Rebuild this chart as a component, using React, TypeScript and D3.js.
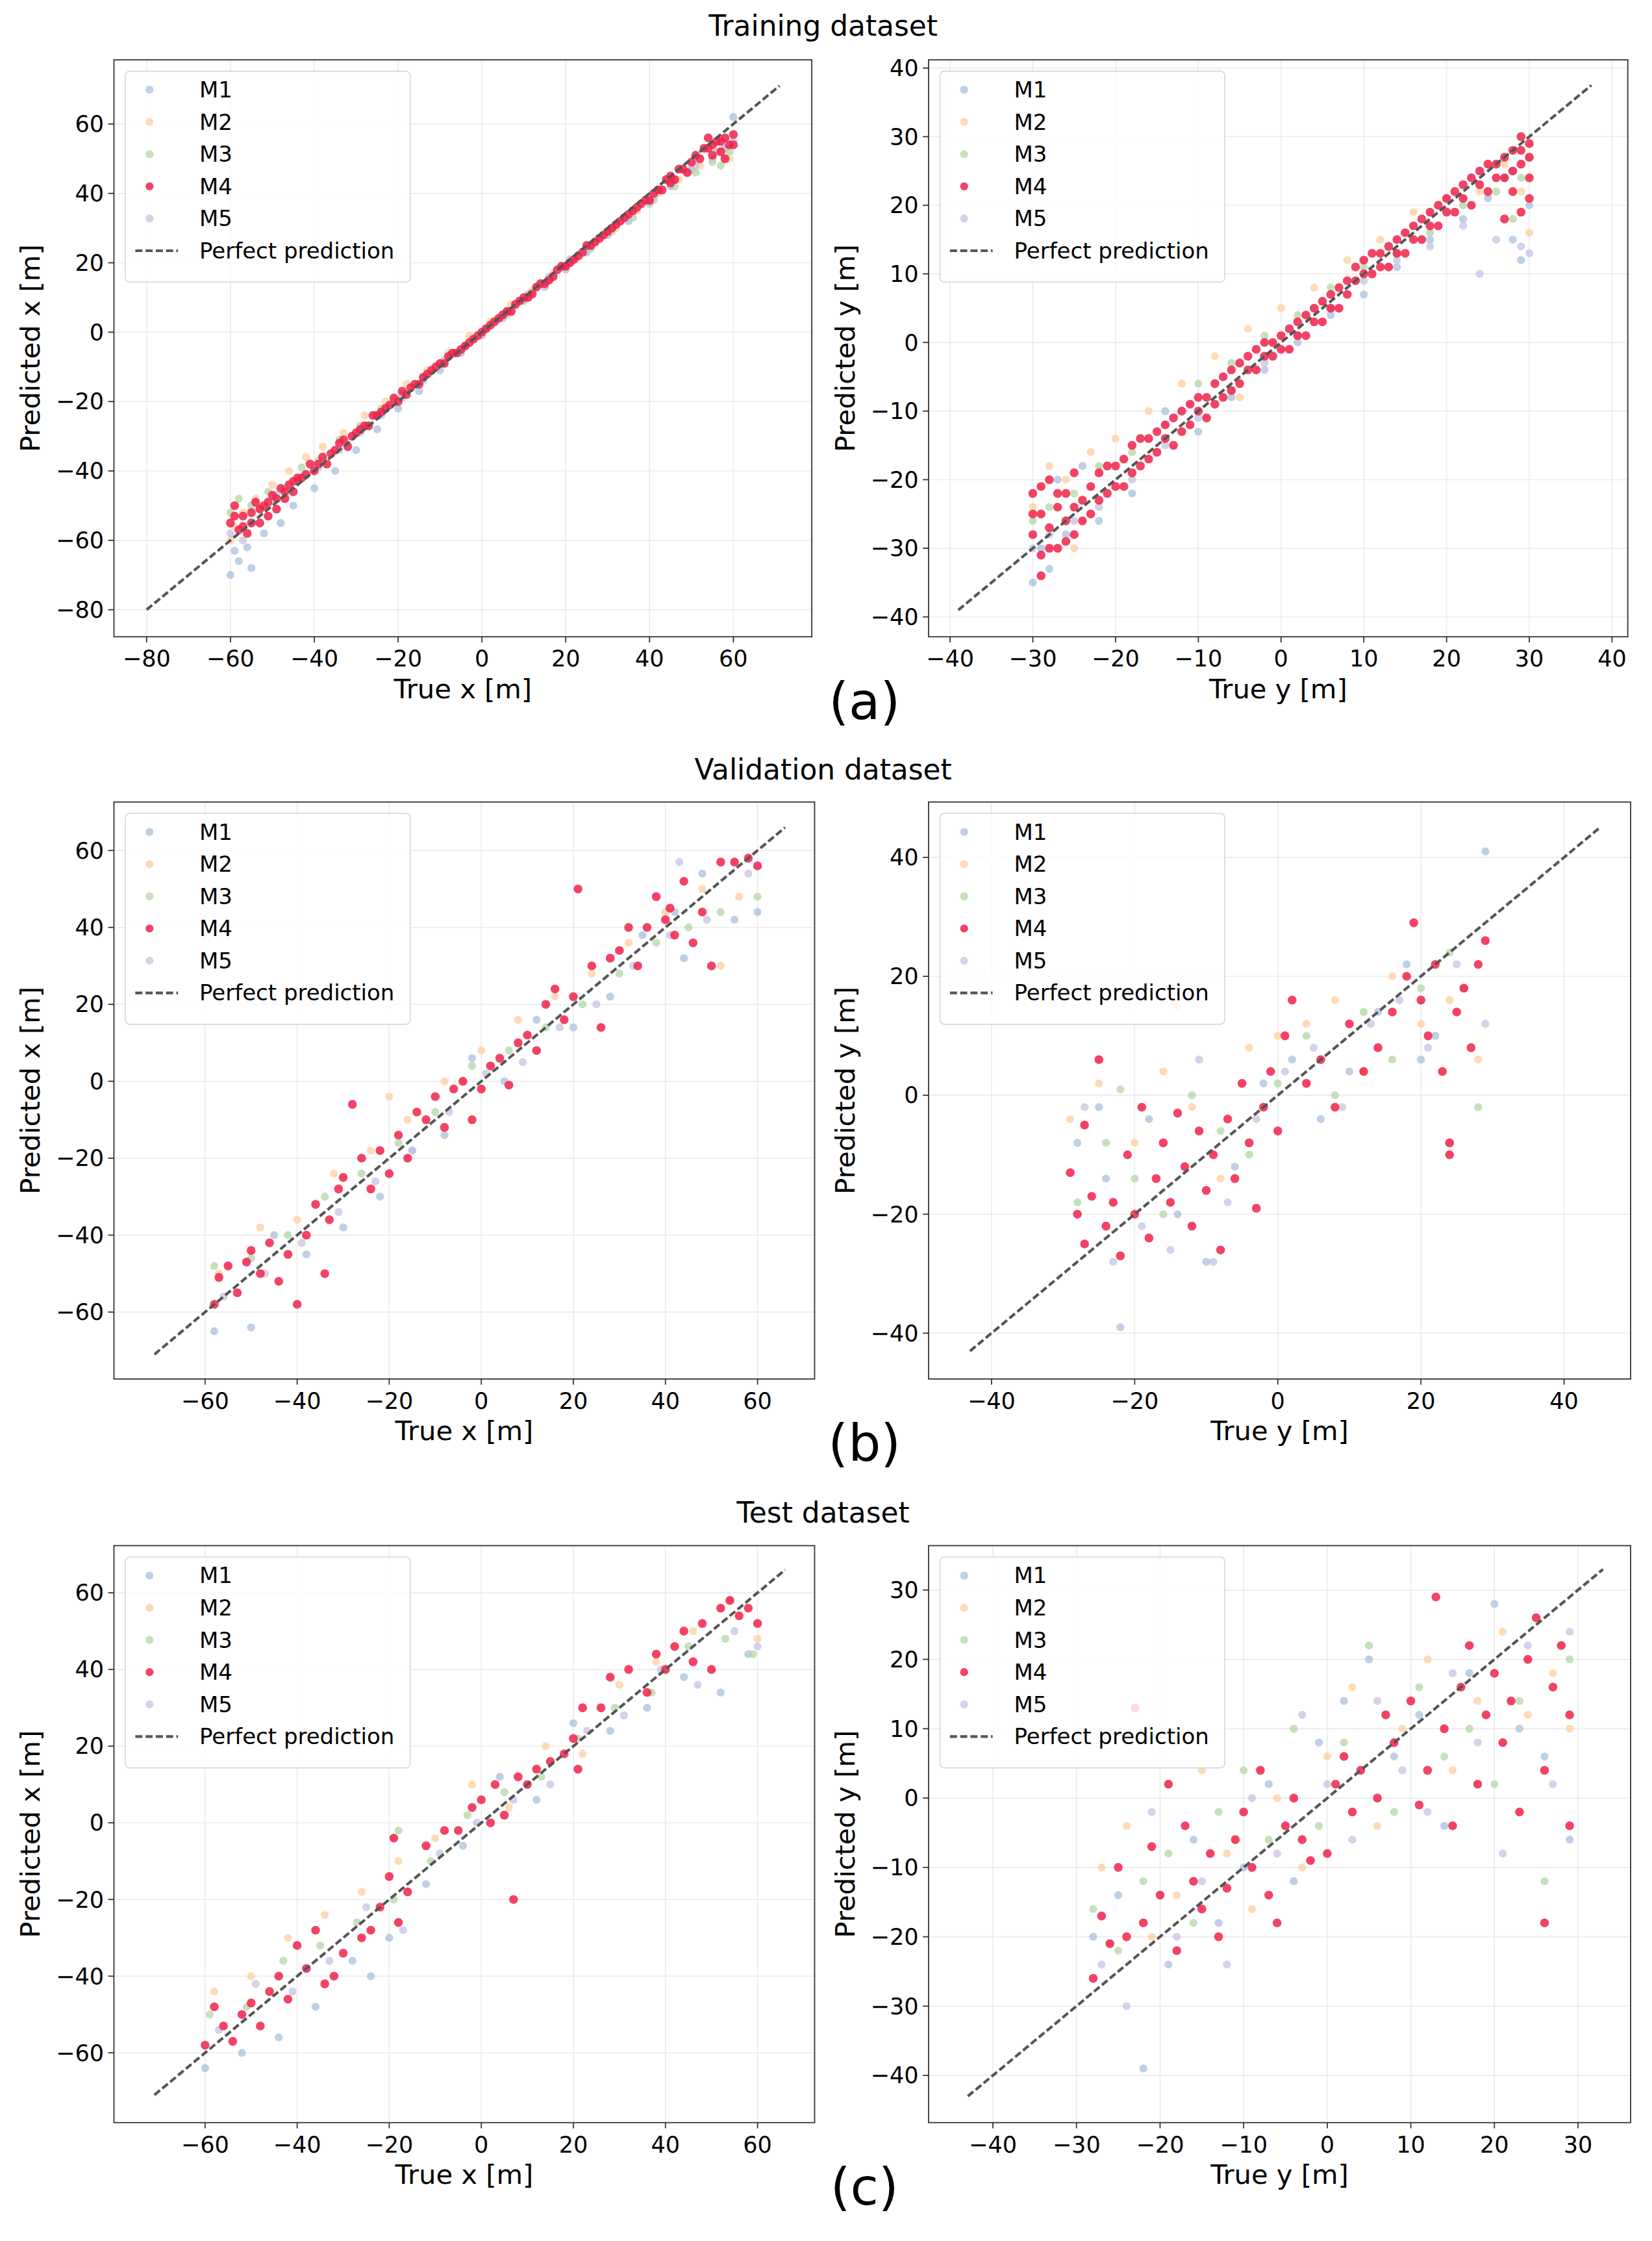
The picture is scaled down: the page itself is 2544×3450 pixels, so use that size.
import React from 'react';
import * as d3 from 'd3';

type Pt = [number, number];

const models = ['M1', 'M2', 'M3', 'M4', 'M5'];
const modelColors = ['#a9bfdc', '#fdcf9e', '#b3d6a4', '#f0224a', '#c6c1e2'];

// training x
const trX: Pt[][] = [
  [[-60,-70],[-58,-66],[-56,-62],[-55,-68],[-52,-58],[-48,-55],[-45,-50],[-40,-45],[-35,-40],[-30,-34],[-25,-28],[-20,-22],[-15,-17],[-10,-11],[-5,-6],[0,-1],[5,4],[10,9],[15,13],[20,18],[25,23],[30,28],[35,32],[40,37],[45,42],[50,47],[55,50],[58,53],[60,62],[-59,-63]],
  [[-60,-60],[-57,-52],[-54,-48],[-50,-44],[-46,-40],[-42,-36],[-38,-33],[-33,-29],[-28,-24],[-23,-20],[-18,-15],[-13,-11],[-8,-6],[-3,-1],[2,3],[7,8],[12,12],[17,17],[22,21],[27,26],[32,30],[37,35],[42,40],[47,44],[52,48],[56,52],[59,50],[-59,-56]],
  [[-60,-52],[-58,-48],[-55,-50],[-51,-46],[-47,-45],[-43,-39],[-39,-37],[-34,-31],[-29,-27],[-24,-22],[-19,-18],[-14,-13],[-9,-8],[-4,-4],[1,1],[6,5],[11,10],[16,15],[21,20],[26,24],[31,29],[36,33],[41,38],[46,42],[51,46],[55,49],[59,52],[57,48]],
  [[-60,-55],[-59,-50],[-58,-57],[-57,-53],[-56,-58],[-55,-52],[-54,-49],[-53,-55],[-52,-50],[-51,-53],[-50,-47],[-49,-51],[-48,-45],[-47,-48],[-46,-44],[-45,-46],[-44,-42],[-42,-41],[-41,-38],[-40,-40],[-38,-36],[-37,-38],[-35,-34],[-34,-32],[-32,-33],[-31,-30],[-29,-28],[-27,-27],[-26,-24],[-24,-23],[-22,-21],[-20,-20],[-19,-17],[-17,-16],[-15,-15],[-13,-12],[-11,-10],[-9,-9],[-7,-6],[-5,-5],[-3,-3],[-1,-1],[1,1],[3,3],[5,5],[7,6],[9,9],[11,10],[13,13],[15,14],[17,16],[19,19],[21,20],[23,22],[25,25],[27,26],[29,28],[31,30],[33,32],[35,34],[37,36],[39,38],[41,40],[43,41],[44,44],[46,44],[47,47],[49,46],[50,49],[52,50],[53,53],[55,51],[56,55],[57,52],[58,56],[59,54],[60,57],[58,50],[54,56],[45,45],
   [-59,-53],[-57,-56],[-55,-55],[-53,-51],[-51,-49],[-49,-48],[-47,-46],[-45,-43],[-43,-42],[-39,-38],[-36,-35],[-33,-31],[-30,-29],[-28,-27],[-25,-24],[-23,-22],[-21,-19],[-18,-18],[-16,-15],[-14,-13],[-12,-11],[-10,-9],[-8,-7],[-6,-6],[-4,-4],[-2,-2],[0,0],[2,2],[4,4],[6,6],[8,8],[10,10],[12,11],[14,14],[16,15],[18,18],[20,19],[22,21],[24,23],[26,25],[28,27],[30,29],[32,31],[34,33],[36,35],[38,37],[40,38],[42,41],[45,43],[48,47],[51,51],[54,53],[57,55],[60,54],[55,54]],
  [[-60,-58],[-57,-60],[-53,-51],[-49,-47],[-44,-43],[-39,-39],[-34,-34],[-29,-29],[-24,-24],[-19,-19],[-14,-14],[-9,-9],[-4,-4],[1,1],[6,6],[11,11],[16,16],[21,21],[26,25],[31,30],[36,35],[41,39],[46,44],[51,48],[56,52],[60,55]],
];

// training y
const trY: Pt[][] = [
  [[-30,-35],[-29,-30],[-28,-33],[-26,-28],[-24,-18],[-22,-26],[-18,-22],[-14,-10],[-10,-13],[-6,-8],[-2,-4],[2,0],[6,4],[10,7],[14,11],[18,15],[22,18],[25,21],[28,15],[30,20],[29,12],[27,24],[-27,-20]],
  [[-30,-24],[-28,-18],[-26,-20],[-23,-16],[-20,-14],[-16,-10],[-12,-6],[-8,-2],[-4,2],[0,5],[4,8],[8,12],[12,15],[16,19],[20,21],[24,22],[27,26],[29,22],[30,16],[-25,-30],[-5,-8]],
  [[-30,-26],[-28,-24],[-25,-22],[-22,-18],[-18,-16],[-14,-12],[-10,-6],[-6,-3],[-2,1],[2,4],[6,8],[10,11],[14,13],[18,16],[22,20],[26,22],[29,24],[30,27],[28,18]],
  [[-30,-28],[-30,-22],[-29,-25],[-29,-31],[-28,-20],[-28,-27],[-27,-24],[-27,-30],[-26,-22],[-26,-26],[-25,-19],[-25,-28],[-24,-23],[-23,-25],[-22,-19],[-21,-22],[-20,-18],[-19,-21],[-18,-15],[-17,-18],[-16,-14],[-15,-16],[-14,-12],[-13,-15],[-12,-10],[-11,-12],[-10,-8],[-9,-11],[-8,-6],[-7,-8],[-6,-4],[-5,-6],[-4,-2],[-3,-4],[-2,0],[-1,-2],[0,1],[1,-1],[2,3],[3,1],[4,5],[5,3],[6,7],[7,5],[8,9],[9,11],[10,12],[11,10],[12,13],[13,11],[14,15],[15,13],[16,17],[17,15],[18,19],[19,17],[20,21],[21,19],[22,23],[23,20],[24,25],[25,22],[26,26],[27,24],[28,28],[28,22],[29,26],[29,19],[30,29],[30,24],[29,30],[27,18],[-29,-34],
   [-30,-25],[-29,-21],[-28,-30],[-27,-22],[-26,-29],[-25,-24],[-24,-26],[-23,-21],[-22,-23],[-21,-18],[-20,-21],[-19,-17],[-18,-19],[-17,-14],[-16,-17],[-15,-13],[-14,-14],[-13,-11],[-12,-13],[-11,-9],[-10,-10],[-9,-8],[-8,-9],[-7,-5],[-6,-7],[-5,-3],[-4,-4],[-3,-1],[-2,-2],[-1,0],[0,-1],[1,2],[2,1],[3,4],[4,3],[5,6],[6,5],[7,8],[8,7],[9,9],[10,10],[11,13],[12,11],[13,14],[14,13],[15,16],[16,15],[17,18],[18,17],[19,20],[20,19],[21,22],[22,21],[23,24],[24,23],[25,26],[26,24],[27,27],[28,25],[29,28],[30,27],[30,21]],
  [[-30,-30],[-28,-28],[-25,-26],[-22,-24],[-18,-20],[-14,-15],[-10,-11],[-6,-7],[-2,-3],[2,1],[6,5],[10,9],[14,12],[18,14],[22,17],[26,15],[29,14],[30,13],[28,25],[24,10]],
];

// validation x
const vaX: Pt[][] = [
  [[-58,-65],[-50,-64],[-45,-40],[-38,-45],[-30,-38],[-22,-30],[-15,-18],[-8,-14],[-2,6],[5,0],[12,16],[20,14],[28,22],[35,38],[42,44],[48,54],[55,42],[60,44],[44,32]],
  [[-57,-50],[-48,-38],[-40,-36],[-32,-24],[-24,-18],[-16,-10],[-8,0],[0,8],[8,16],[16,22],[24,28],[32,36],[40,44],[48,50],[56,48],[52,30],[-20,-4]],
  [[-58,-48],[-50,-46],[-42,-40],[-34,-30],[-26,-24],[-18,-16],[-10,-8],[-2,4],[6,8],[14,14],[22,20],[30,28],[38,36],[45,40],[52,44],[60,48]],
  [[-58,-58],[-57,-51],[-55,-48],[-53,-55],[-51,-47],[-50,-44],[-48,-50],[-46,-42],[-44,-52],[-42,-45],[-40,-58],[-38,-40],[-36,-32],[-34,-50],[-33,-36],[-31,-28],[-30,-25],[-28,-6],[-26,-20],[-24,-28],[-22,-18],[-20,-24],[-18,-14],[-16,-20],[-14,-8],[-12,-10],[-10,-4],[-8,-12],[-6,-2],[-4,0],[-2,-10],[0,-2],[2,4],[4,6],[6,-1],[8,10],[10,12],[12,8],[14,20],[16,24],[18,16],[20,22],[21,50],[24,30],[26,14],[28,32],[30,34],[32,40],[34,30],[36,40],[38,48],[40,42],[42,38],[44,52],[46,36],[48,44],[50,30],[52,57],[55,57],[58,58],[60,56],[41,45]],
  [[-56,-56],[-47,-50],[-39,-42],[-31,-34],[-23,-26],[-15,-18],[-7,-8],[1,2],[9,5],[17,14],[25,20],[33,30],[41,38],[49,42],[58,54],[43,57]],
];

// validation y
const vaY: Pt[][] = [
  [[-28,-8],[-24,-14],[-22,-39],[-18,-4],[-14,-20],[-10,-28],[-6,-12],[-2,2],[2,6],[6,-4],[10,4],[14,14],[18,22],[22,10],[26,18],[29,41],[-25,-2],[20,6]],
  [[-29,-4],[-25,2],[-20,-8],[-16,4],[-12,-2],[-8,-14],[-4,8],[0,10],[4,12],[8,16],[12,4],[16,20],[20,12],[24,16],[28,6],[-14,15]],
  [[-28,-18],[-24,-8],[-20,-14],[-16,-20],[-12,0],[-8,-6],[-4,-10],[0,2],[4,10],[8,0],[12,14],[16,6],[20,18],[24,24],[28,-2],[-22,1]],
  [[-29,-13],[-28,-20],[-27,-25],[-27,-5],[-26,-17],[-25,6],[-24,-22],[-23,-18],[-22,-27],[-21,-10],[-20,-20],[-19,-2],[-18,-24],[-17,-14],[-16,-8],[-15,-18],[-14,-3],[-13,-12],[-12,-22],[-11,-6],[-10,-16],[-9,-10],[-8,-26],[-7,-4],[-6,-14],[-5,2],[-4,-8],[-3,-19],[-2,-2],[-1,4],[0,-6],[1,10],[2,16],[4,2],[6,6],[8,-2],[10,12],[12,4],[14,8],[16,14],[18,20],[19,29],[20,16],[21,10],[22,22],[23,4],[24,-8],[25,14],[26,18],[27,8],[28,22],[29,26],[24,-10]],
  [[-27,-2],[-23,-28],[-19,-22],[-15,-26],[-11,6],[-7,-18],[-3,-4],[1,4],[5,8],[9,-2],[13,12],[17,16],[21,8],[25,22],[29,12],[-9,-28]],
];

// test x
const teX: Pt[][] = [
  [[-60,-64],[-52,-60],[-44,-56],[-36,-48],[-28,-36],[-20,-30],[-12,-16],[-4,-6],[4,12],[12,6],[20,26],[28,24],[36,30],[44,38],[52,34],[58,44],[-24,-40]],
  [[-58,-44],[-50,-40],[-42,-30],[-34,-24],[-26,-18],[-18,-10],[-10,-4],[-2,10],[6,4],[14,20],[22,18],[30,36],[38,42],[46,50],[54,58],[60,48]],
  [[-59,-50],[-51,-48],[-43,-36],[-35,-32],[-27,-26],[-19,-20],[-11,-10],[-3,2],[5,8],[13,12],[21,22],[29,30],[37,34],[45,46],[53,48],[59,44],[-18,-2]],
  [[-60,-58],[-58,-48],[-56,-53],[-54,-57],[-52,-50],[-50,-47],[-48,-53],[-46,-44],[-44,-40],[-42,-46],[-40,-32],[-38,-38],[-36,-28],[-34,-42],[-32,-40],[-30,-34],[-26,-30],[-24,-28],[-22,-22],[-20,-14],[-19,-4],[-18,-26],[-16,-18],[-12,-6],[-8,-2],[-5,-2],[-2,4],[0,6],[2,0],[3,10],[5,2],[7,-20],[8,12],[10,10],[12,14],[15,16],[18,18],[20,22],[21,14],[22,30],[26,30],[28,38],[32,40],[36,34],[38,44],[40,40],[42,46],[44,50],[46,42],[50,40],[52,56],[54,58],[56,54],[58,56],[60,52],[48,52]],
  [[-57,-54],[-49,-42],[-41,-44],[-33,-36],[-25,-22],[-17,-28],[-9,-8],[-1,0],[7,6],[15,10],[23,24],[31,28],[39,40],[47,36],[55,50],[60,46]],
];

// test y
const teY: Pt[][] = [
  [[-28,-20],[-25,-14],[-22,-39],[-19,-24],[-16,-6],[-13,-18],[-10,-10],[-7,2],[-4,-12],[-1,8],[2,14],[5,20],[8,6],[11,12],[14,-4],[17,18],[20,28],[23,10],[26,6],[29,-6]],
  [[-27,-10],[-24,-4],[-21,-20],[-18,-14],[-15,4],[-12,-8],[-9,-16],[-6,0],[-3,-10],[0,6],[3,16],[6,-4],[9,10],[12,20],[15,4],[18,14],[21,24],[24,12],[27,18],[29,10]],
  [[-28,-16],[-25,-22],[-22,-12],[-19,-8],[-16,-18],[-13,-2],[-10,4],[-7,-6],[-4,10],[-1,-4],[2,8],[5,22],[8,-2],[11,16],[14,6],[17,10],[20,2],[23,14],[26,-12],[29,20]],
  [[-28,-26],[-27,-17],[-26,-21],[-25,-10],[-24,-20],[-23,13],[-22,-18],[-21,-7],[-20,-14],[-19,2],[-18,-22],[-17,-4],[-16,-12],[-15,-16],[-14,-8],[-13,-20],[-12,-13],[-11,-6],[-10,-2],[-9,-10],[-8,4],[-7,-14],[-6,-18],[-5,-4],[-4,0],[-3,-6],[-2,-9],[0,-8],[1,2],[2,6],[3,-2],[4,4],[6,0],[7,12],[8,8],[10,14],[11,-1],[12,4],[13,29],[14,10],[15,-4],[16,16],[17,22],[18,2],[19,12],[20,18],[21,8],[22,14],[23,-2],[24,20],[25,26],[26,4],[26,-18],[27,16],[28,22],[29,-4],[29,12]],
  [[-27,-24],[-24,-30],[-21,-2],[-18,-20],[-15,-12],[-12,-24],[-9,0],[-6,-8],[-3,12],[0,2],[3,-6],[6,14],[9,4],[12,-2],[15,18],[18,8],[21,-8],[24,22],[27,2],[29,24]],
];

const S = 2544 / 1160;

type Panel = {
  data: Pt[][]; left: number; top: number; w: number; h: number;
  xd: [number, number]; yd: [number, number]; xt: number[]; yt: number[];
  line: [number, number]; axis: string;
};

const r = (a: number, b: number, st: number) => d3.range(a, b + 0.001, st);

const panels: Panel[] = [
  { data: trX, left: 80, top: 42, w: 490, h: 405, xd: [-87.8, 78.7], yd: [-87.8, 78.5], xt: r(-80, 60, 20), yt: r(-80, 60, 20), line: [-80, 71], axis: 'x' },
  { data: trY, left: 652, top: 42, w: 491, h: 405, xd: [-42.6, 41.9], yd: [-42.9, 41.2], xt: r(-40, 40, 10), yt: r(-40, 40, 10), line: [-39, 37.5], axis: 'y' },
  { data: vaX, left: 80, top: 563, w: 492, h: 405, xd: [-79.8, 72.4], yd: [-77.4, 72.6], xt: r(-60, 60, 20), yt: r(-60, 60, 20), line: [-71, 66], axis: 'x' },
  { data: vaY, left: 652, top: 563, w: 493, h: 405, xd: [-48.8, 49.3], yd: [-47.7, 49.3], xt: r(-40, 40, 20), yt: r(-40, 40, 20), line: [-43, 45], axis: 'y' },
  { data: teX, left: 80, top: 1085, w: 492, h: 405, xd: [-79.8, 72.4], yd: [-78.2, 72.3], xt: r(-60, 60, 20), yt: r(-60, 60, 20), line: [-71, 66], axis: 'x' },
  { data: teY, left: 652, top: 1085, w: 493, h: 405, xd: [-47.7, 36.3], yd: [-46.8, 36.4], xt: r(-40, 30, 10), yt: r(-40, 30, 10), line: [-43, 33], axis: 'y' },
];

const titles = [
  { text: 'Training dataset', y: 18, tag: '(a)', ty: 492 },
  { text: 'Validation dataset', y: 540, tag: '(b)', ty: 1013 },
  { text: 'Test dataset', y: 1062, tag: '(c)', ty: 1535 },
];

const font = 'DejaVu Sans, sans-serif';
const fmt = (v: number) => (v < 0 ? '\u2212' + Math.abs(v) : String(v));

function PanelView({ p }: { p: Panel }) {
  const x0 = p.left * S, y0 = p.top * S, W = p.w * S, H = p.h * S;
  const x = d3.scaleLinear().domain(p.xd).range([x0, x0 + W]);
  const y = d3.scaleLinear().domain(p.yd).range([y0 + H, y0]);
  const order = [0, 1, 2, 4, 3];
  const lx = x0 + 8 * S, ly = y0 + 8 * S, fs = 15.5 * S;
  const dash = `${5 * S} ${2.2 * S}`;
  return (
    <g>
      {p.xt.map(t => <line key={'gx' + t} x1={x(t)} x2={x(t)} y1={y0} y2={y0 + H} stroke="#ebebeb" strokeWidth={1.6} />)}
      {p.yt.map(t => <line key={'gy' + t} x1={x0} x2={x0 + W} y1={y(t)} y2={y(t)} stroke="#ebebeb" strokeWidth={1.6} />)}
      {order.map(i => p.data[i].map((d, j) => (
        <circle key={i + '-' + j} cx={x(d[0])} cy={y(d[1])} r={(i === 3 ? 3.1 : 2.8) * S}
          fill={modelColors[i]} opacity={i === 3 ? 0.85 : 0.75} />
      )))}
      <line x1={x(p.line[0])} y1={y(p.line[0])} x2={x(p.line[1])} y2={y(p.line[1])}
        stroke="#555" strokeWidth={1.9 * S} strokeDasharray={dash} />
      <rect x={x0} y={y0} width={W} height={H} fill="none" stroke="#333" strokeWidth={1.8} />
      {p.xt.map(t => (
        <g key={'tx' + t}>
          <line x1={x(t)} x2={x(t)} y1={y0 + H} y2={y0 + H + 4 * S} stroke="#333" strokeWidth={1.8} />
          <text x={x(t)} y={y0 + H + 21 * S} fontSize={16 * S} fontFamily={font} textAnchor="middle">{fmt(t)}</text>
        </g>
      ))}
      {p.yt.map(t => (
        <g key={'ty' + t}>
          <line x1={x0 - 4 * S} x2={x0} y1={y(t)} y2={y(t)} stroke="#333" strokeWidth={1.8} />
          <text x={x0 - 7 * S} y={y(t)} dy="0.35em" fontSize={16 * S} fontFamily={font} textAnchor="end">{fmt(t)}</text>
        </g>
      ))}
      <text x={x0 + W / 2} y={y0 + H + 43 * S} fontSize={19 * S} fontFamily={font} textAnchor="middle">{`True ${p.axis} [m]`}</text>
      <text transform={`translate(${x0 - 52 * S},${y0 + H / 2}) rotate(-90)`} fontSize={19 * S} fontFamily={font} textAnchor="middle">{`Predicted ${p.axis} [m]`}</text>
      <rect x={lx} y={ly} width={200 * S} height={148 * S} rx={3 * S} fill="#fff" fillOpacity={0.8} stroke="#d6d6d6" strokeWidth={1.6} />
      {models.map((m, i) => (
        <g key={m}>
          <circle cx={lx + 17 * S} cy={ly + (13 + 22.6 * i) * S} r={2.8 * S} fill={modelColors[i]} opacity={i === 3 ? 0.85 : 0.75} />
          <text x={lx + 52 * S} y={ly + (13 + 22.6 * i) * S} dy="0.35em" fontSize={fs} fontFamily={font}>{m}</text>
        </g>
      ))}
      <line x1={lx + 7 * S} x2={lx + 37 * S} y1={ly + 126 * S} y2={ly + 126 * S} stroke="#555" strokeWidth={1.9 * S} strokeDasharray={dash} />
      <text x={lx + 52 * S} y={ly + 126 * S} dy="0.35em" fontSize={fs} fontFamily={font}>Perfect prediction</text>
    </g>
  );
}

export default function App() {
  return (
    <svg width={2544} height={3450} style={{ position: 'absolute', left: 0, top: 0, background: '#fff' }}>
      <rect width={2544} height={3450} fill="#fff" />
      {titles.map(t => (
        <g key={t.text}>
          <text x={578 * S} y={t.y * S} dy="0.35em" fontSize={20 * S} fontFamily={font} textAnchor="middle">{t.text}</text>
          <text x={607 * S} y={t.ty * S} dy="0.35em" fontSize={36 * S} fontFamily={font} textAnchor="middle">{t.tag}</text>
        </g>
      ))}
      {panels.map((p, i) => <PanelView key={i} p={p} />)}
    </svg>
  );
}
